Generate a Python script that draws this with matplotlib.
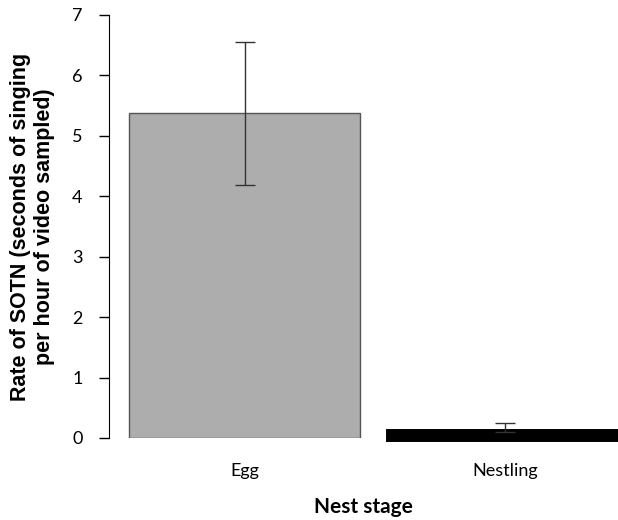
import matplotlib.pyplot as plt

stages = ["Egg", "Nestling"]
rates = [5.37, 0.10]
err_low = [1.18, 0.0]
err_high = [1.19, 0.15]
yticks = [0, 1, 2, 3, 4, 5, 6, 7]

fig = plt.figure(figsize=(6.18, 5.20), dpi=100)
ax = fig.add_axes([0.1764, 0.1577, 0.8236, 0.8135])

x = [0, 1]
ax.bar(x[0], rates[0], width=0.888, color="#adadad", edgecolor="#555555", lw=1.0)
ax.bar(x[1], rates[1], width=0.888, color="black", edgecolor="black", lw=5,
       clip_on=False)
ax.errorbar(x, rates, yerr=[err_low, err_high], fmt="none", ecolor="#333333",
            elinewidth=1.0, capsize=7, capthick=1.0)

ax.set_xlim(-0.521, 1.435)
ax.set_ylim(0, 7)
ax.tick_params(axis="y", length=7, width=1, pad=12, labelsize=13)
ax.tick_params(axis="x", length=0, pad=18, labelsize=13)
ax.set_yticks(yticks)
ax.set_xticks(x)
ax.set_xticklabels(stages, family="Lato", fontsize=13)
ax.set_yticklabels([str(v) for v in yticks], family="Lato", fontsize=13)

for s in ["top", "right", "bottom"]:
    ax.spines[s].set_visible(False)
ax.spines["left"].set_bounds(0, 7)

ax.set_xlabel("Nest stage", family="Lato", fontsize=15, fontweight="bold",
              labelpad=13)
ax.set_ylabel("Rate of SOTN (seconds of singing\nper hour of video sampled)",
              family="Liberation Sans", fontsize=15.5, fontweight="bold",
              labelpad=12, linespacing=1.2)

fig.savefig("out.png", dpi=100)
